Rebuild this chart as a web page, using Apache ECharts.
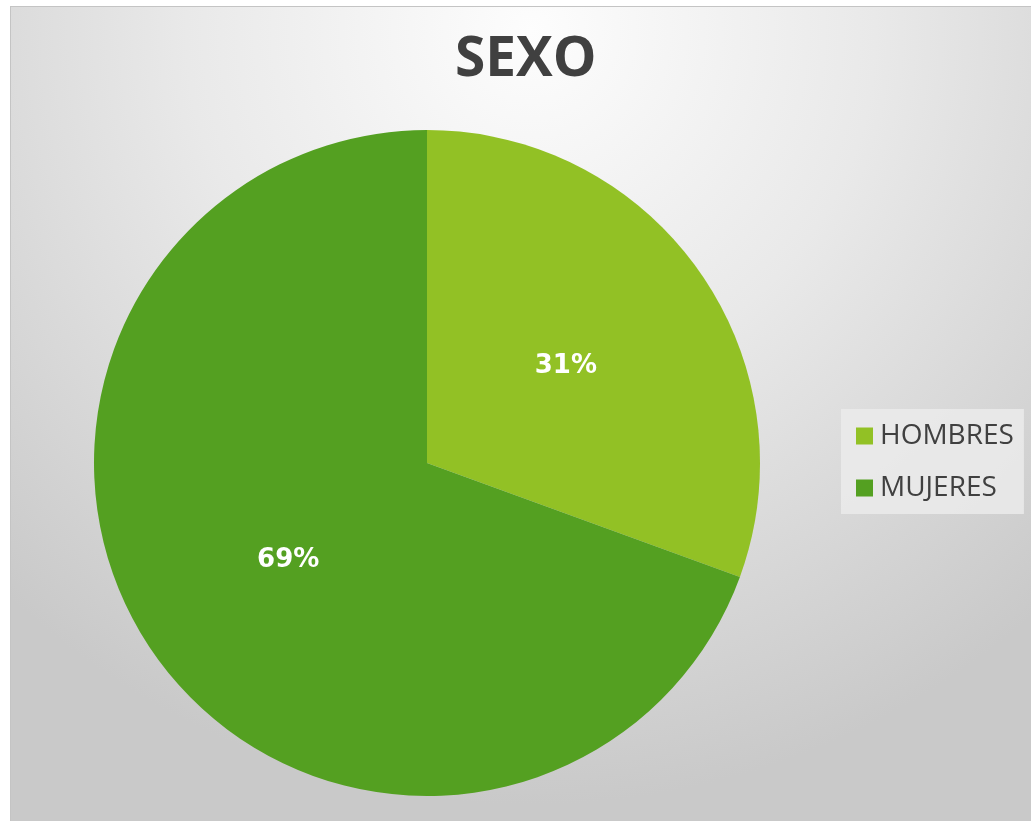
<!DOCTYPE html>
<html>
<head>
<meta charset="utf-8">
<script src="https://cdn.jsdelivr.net/npm/echarts@6/dist/echarts.min.js"></script>
<style>
	html, body { margin: 0; padding: 0; background: #ffffff; }
	.pie {
		position: absolute;
		left: 10px;
		top: 6px;
		width: 1021px;
		height: 815px;
		border-left: 1px solid #c4c4c4;
		border-top: 1px solid #c4c4c4;
		box-sizing: border-box;
		background: radial-gradient(ellipse 75% 95% at 51% 3%, #fdfdfd 0%, #e9e9e9 45%, #c9c9c9 100%);
	}
</style>
</head>
<body>
<div id="pie" class="pie"></div>
<script>
	var titleText = 'SEXO'
	var categories = ['HOMBRES', 'MUJERES']
	var values = [11, 25]
	var colors = ['#92c125', '#54a021']

	var pieData = categories.map(function (name, i) {
		return { name: name, value: values[i], itemStyle: { color: colors[i] } }
	})

	var pieChart = echarts.init(document.getElementById('pie'))
	var option = {
		backgroundColor: 'transparent',
		title: {
			text: titleText,
			left: 439,
			top: 21,
			textStyle: {
				fontFamily: 'Open Sans',
				fontWeight: 'bold',
				fontSize: 55,
				color: '#404040'
			}
		},
		legend: {
			orient: 'vertical',
			left: 830,
			top: 402,
			padding: [13, 10, 12, 15],
			backgroundColor: 'rgba(235,235,235,0.85)',
			itemWidth: 17,
			itemHeight: 17,
			itemGap: 24,
			icon: 'rect',
			data: categories,
			textStyle: {
				fontFamily: 'Open Sans',
				fontSize: 28,
				color: '#404040',
				padding: [0, 0, 0, 2]
			}
		},
		series: [
			{
				name: titleText,
				type: 'pie',
				center: [416, 456],
				radius: 333,
				startAngle: 90,
				clockwise: true,
				silent: true,
				label: {
					show: true,
					position: 'inside',
					formatter: function (p) { return Math.round(p.percent) + '%' },
					color: '#ffffff',
					fontFamily: 'DejaVu Sans',
					fontWeight: 'bold',
					fontSize: 26
				},
				labelLine: { show: false },
				data: pieData
			}
		]
	}
	pieChart.setOption(option)
</script>
</body>
</html>
